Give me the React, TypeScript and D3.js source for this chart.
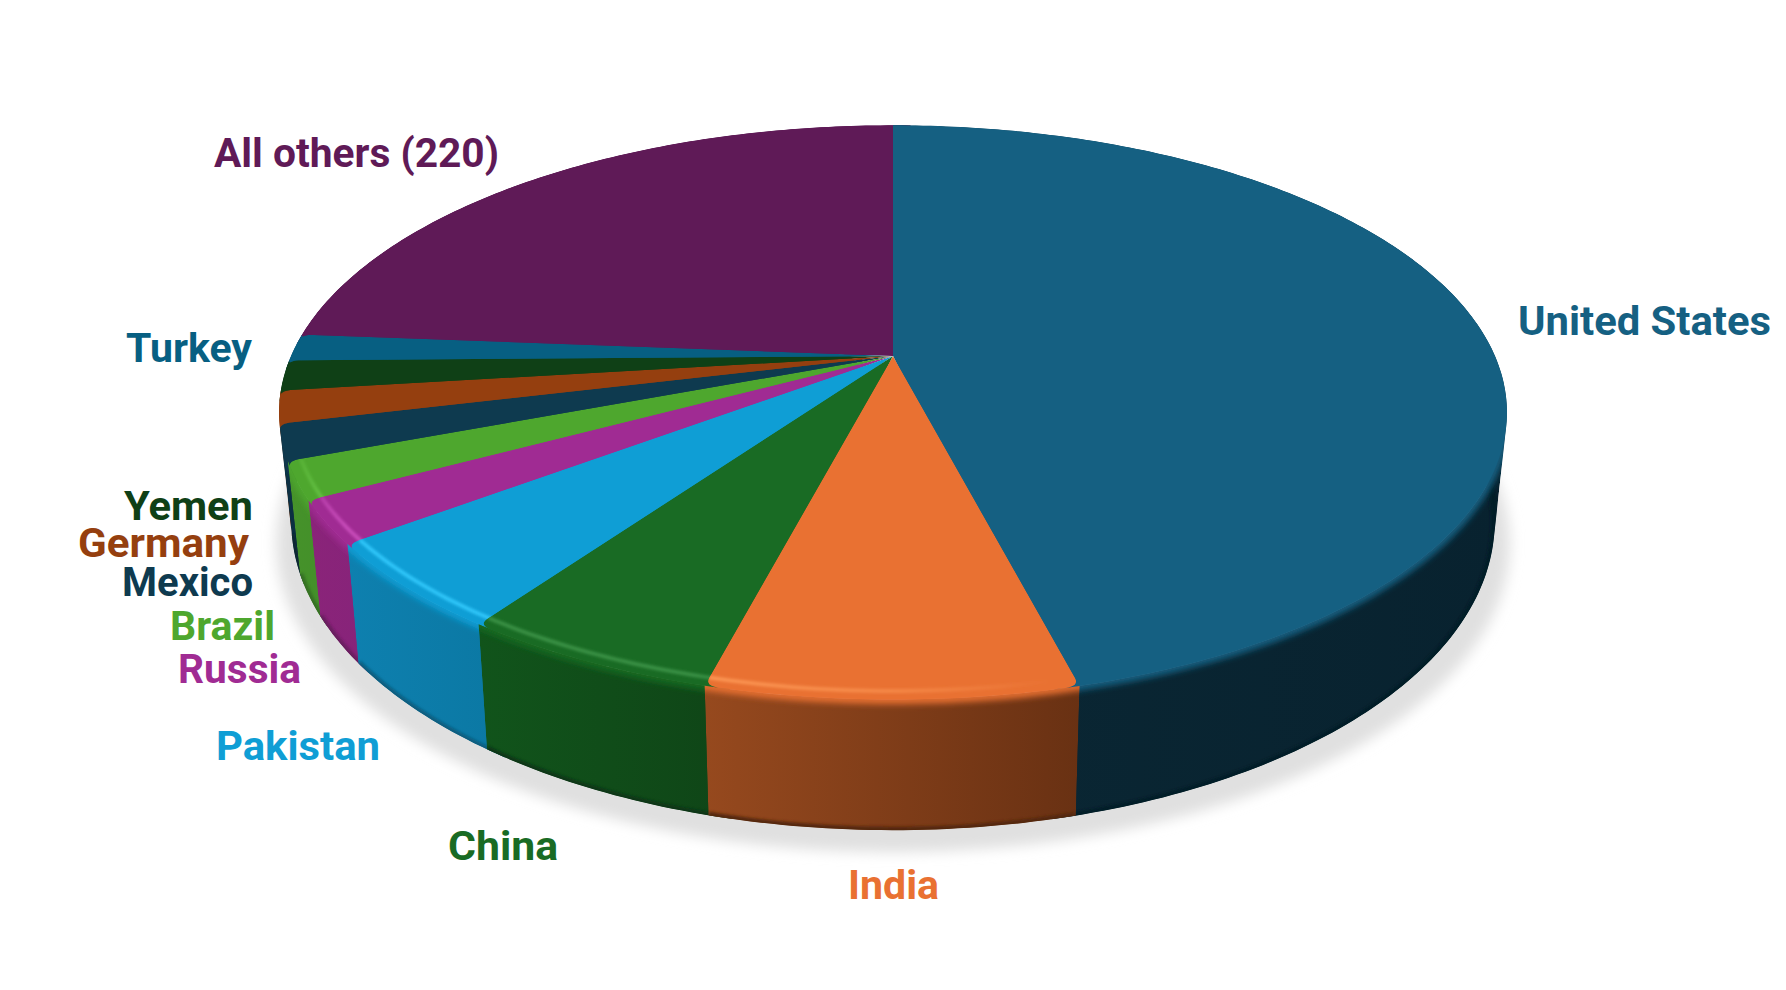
import React from 'react';
import * as d3 from 'd3';

// shares, clockwise from 12 o'clock
const countries = ['United States', 'India', 'China', 'Pakistan', 'Russia', 'Brazil', 'Mexico', 'Germany', 'Yemen', 'Turkey', 'All others (220)'];
const shares = [45.88, 8.1, 5.72, 4.92, 2.4, 2.1, 2.0, 1.8, 1.7, 1.5, 23.7];

const topColors = ['#156082', '#E97132', '#196B24', '#0F9ED5', '#A02B93', '#4EA72E', '#0E3A4F', '#953F0F', '#0F4016', '#075F82', '#5F1A57'];
const wallLeft = ['#0A2734', '#96491E', '#11541B', '#0E80AF', '#8A2479', '#46922A', '#0C2F42', '#7A340D', '#0C3412', '#064E6B', '#4A1444'];
const wallRight = ['#08222F', '#693113', '#0F4517', '#0B78A3', '#87237A', '#43902A', '#0C2F42', '#7A340D', '#0C3412', '#064E6B', '#4A1444'];

// label placement: x start, x end, baseline
const labelBoxes = [
  [1518, 1771, 335], [848, 939, 899], [448, 558, 860], [216, 380, 760], [178, 301, 683], [170, 275, 640],
  [122, 253, 596], [78, 249, 557], [124, 253, 520], [126, 252, 362], [214, 499, 167],
];

const width = 1786;
const height = 990;
const cx = 893;
const cy = 356;
const radiusX = 602;
const radiusY = 276;
const persp = 0.1965; // front of the disc is nearer to the camera
const depth = 105;
const shrink = 0.02; // bottom face converges a little

// u,v are on the unit disc, v = 1 is the back. t = 0 top face, t = 1 bottom face
const project = (u: number, v: number, t = 0): [number, number] => {
  const s = 1 / (1 + persp * v);
  const x = radiusX * u * s * (1 - shrink * t);
  const y = -radiusY * v * s + depth * t * s;
  return [cx + x, cy + y];
};
const polar = (r: number, a: number): [number, number] => [r * Math.sin(a), r * Math.cos(a)];

const line = d3.line();
const angles = (a0: number, a1: number) => {
  const n = Math.max(4, Math.ceil((a1 - a0) / 0.015));
  return d3.range(n + 1).map(i => a0 + ((a1 - a0) * i) / n);
};
const arcPoints = (r: number, a0: number, a1: number, t = 0) =>
  angles(a0, a1).map(a => {
    const [u, v] = polar(r, a);
    return project(u, v, t);
  });

const cornerSize = 0.02;
const underlap = 0.035;
const quad = (p0: number[], c: number[], p1: number[]) =>
  d3.range(9).map(i => {
    const k = i / 8;
    const u = (1 - k) * (1 - k) * p0[0] + 2 * k * (1 - k) * c[0] + k * k * p1[0];
    const v = (1 - k) * (1 - k) * p0[1] + 2 * k * (1 - k) * c[1] + k * k * p1[1];
    return project(u, v);
  });

const pie = d3.pie<number>().sort(null).value(d => d);
const slices = pie(shares).map((p, i) => ({ i, a0: p.startAngle, a1: p.endAngle, mid: (p.startAngle + p.endAngle) / 2 }));
type Slice = (typeof slices)[number];

// paint back to front
const ordered = d3.sort(slices, s => -Math.cos(s.mid));
const paintRank = new Map(ordered.map((s, rank) => [s.i, rank]));
const n = slices.length;
const aboveStart = (i: number) => paintRank.get(i)! > paintRank.get((i + n - 1) % n)!;
const aboveEnd = (i: number) => paintRank.get(i)! > paintRank.get((i + 1) % n)!;

// a corner is rounded where it sits over the neighbour, and never at the back
const roundStart = (s: Slice) => aboveStart(s.i) && -Math.cos(s.a0) > -0.5;
const roundEnd = (s: Slice) => aboveEnd(s.i) && -Math.cos(s.a1) > -0.5;
// a slice reaches a little under the neighbour painted after it, so no seam shows
const from = (s: Slice) => s.a0 - (aboveStart(s.i) ? 0 : underlap);
const to = (s: Slice) => s.a1 + (aboveEnd(s.i) ? 0 : underlap);

const topPath = (s: Slice) => {
  const d = Math.min(cornerSize, (s.a1 - s.a0) * 0.45);
  const left = roundStart(s) ? quad(polar(1 - cornerSize, s.a0), polar(1, s.a0), polar(1, s.a0 + d)) : [];
  const right = roundEnd(s) ? quad(polar(1, s.a1 - d), polar(1, s.a1), polar(1 - cornerSize, s.a1)) : [];
  const rim = arcPoints(1, roundStart(s) ? s.a0 + d : from(s), roundEnd(s) ? s.a1 - d : to(s));
  return line([project(0, 0), ...left, ...rim, ...right]) + 'Z';
};

// the wall is the sweep of the rim from top to bottom, one quad per step, all wound the same way
const wallPath = (s: Slice) => {
  const upper = arcPoints(1, from(s), to(s));
  const lower = arcPoints(1, from(s), to(s), 1);
  return d3
    .range(upper.length - 1)
    .map(j => {
      const q = [upper[j], upper[j + 1], lower[j + 1], lower[j]] as [number, number][];
      if (d3.polygonArea(q) < 0) q.reverse();
      return line(q) + 'Z';
    })
    .join('');
};

const highlightStops = [
  [0, 0.1], [0.07, 0.95], [0.5, 0.95], [0.75, 0.6], [0.95, 0],
];
const glowColor = (c: string) => d3.interpolateRgb(d3.rgb(c).brighter(0.6).formatHex(), '#ffffff')(0.14);

const App = () => {
  const shadow = line(arcPoints(1, 0, 2 * Math.PI, 1)) + 'Z';
  return (
    <svg width={width} height={height} viewBox={`0 0 ${width} ${height}`} style={{ position: 'absolute', left: 0, top: 0, background: '#fff' }}>
      <defs>
        <filter id="shadowBlur" filterUnits="userSpaceOnUse" x={0} y={0} width={width} height={height}>
          <feGaussianBlur stdDeviation={6.5} />
        </filter>
        <filter id="rimBlur" filterUnits="userSpaceOnUse" x={0} y={0} width={width} height={height}>
          <feGaussianBlur stdDeviation={3.2} />
        </filter>
        <filter id="glowBlur" filterUnits="userSpaceOnUse" x={0} y={0} width={width} height={height}>
          <feGaussianBlur stdDeviation={1.8} />
        </filter>
        {slices.map(s => (
          <React.Fragment key={s.i}>
            <clipPath id={`clip-${s.i}`}>
              <path d={topPath(s)} />
              <path d={wallPath(s)} />
            </clipPath>
            <linearGradient id={`wall-${s.i}`} x1="0" x2="1" y1="0" y2="0">
              <stop offset="0" stopColor={wallLeft[s.i]} />
              <stop offset="1" stopColor={wallRight[s.i]} />
            </linearGradient>
            <linearGradient id={`glow-${s.i}`} gradientUnits="userSpaceOnUse" x1={290} x2={1090} y1={0} y2={0}>
              {highlightStops.map(([o, a]) => (
                <stop key={o} offset={o} stopColor={glowColor(topColors[s.i])} stopOpacity={a} />
              ))}
            </linearGradient>
          </React.Fragment>
        ))}
      </defs>

      <path
        d={shadow}
        transform={`translate(${cx},22) scale(1.025,1) translate(${-cx},0)`}
        fill="#e0e0e0"
        filter="url(#shadowBlur)"
      />

      {ordered.map(s => {
        const front = -Math.cos(s.mid) > 0.35;
        return (
          <g key={s.i} clipPath={`url(#clip-${s.i})`}>
            <path d={wallPath(s)} fill={`url(#wall-${s.i})`} />
            <path
              d={line(arcPoints(1, from(s), to(s), 1)) ?? ''}
              fill="none"
              stroke={d3.rgb(wallRight[s.i]).darker(0.7).formatHex()}
              strokeWidth={7}
              filter="url(#glowBlur)"
            />
            <path
              d={line(arcPoints(1, from(s) - 0.01, to(s) + 0.01)) ?? ''}
              fill="none"
              stroke={topColors[s.i]}
              strokeWidth={9}
              filter="url(#rimBlur)"
            />
            <path d={topPath(s)} fill={topColors[s.i]} />
            {front && (
              <path
                d={line(arcPoints(0.98, from(s), to(s))) ?? ''}
                fill="none"
                stroke={`url(#glow-${s.i})`}
                strokeWidth={3.5}
                filter="url(#glowBlur)"
              />
            )}
          </g>
        );
      })}

      <g fontFamily="Roboto, sans-serif" fontWeight={700} fontSize={40}>
        {countries.map((name, i) => {
          const [x0, x1, y] = labelBoxes[i];
          return (
            <text key={name} x={x0} y={y} fill={topColors[i]} textLength={x1 - x0} lengthAdjust="spacingAndGlyphs">
              {name}
            </text>
          );
        })}
      </g>
    </svg>
  );
};

export default App;
